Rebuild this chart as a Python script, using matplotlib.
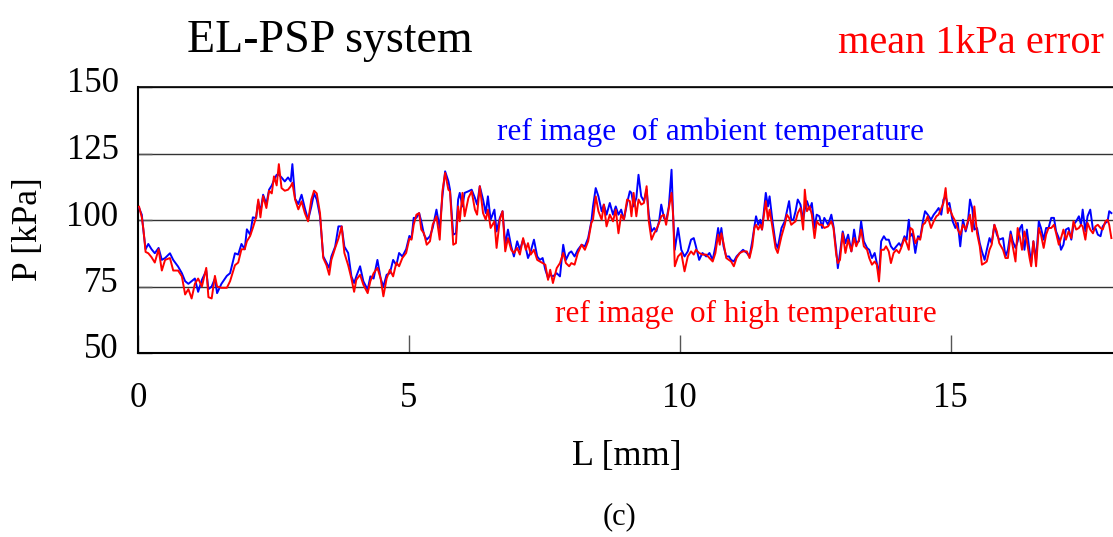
import matplotlib
matplotlib.use("Agg")
import matplotlib.pyplot as plt
import matplotlib.transforms as mtransforms

# Font: Times-like serif
plt.rcParams['font.family'] = ['Liberation Serif', 'DejaVu Serif']

# Position along the line [mm]
L_MM = [
    0.02, 0.07, 0.10, 0.14, 0.19, 0.25, 0.31, 0.38, 0.44, 0.50,
    0.59, 0.65, 0.74, 0.81, 0.87, 0.93, 0.99, 1.05, 1.11, 1.18,
    1.26, 1.30, 1.36, 1.42, 1.46, 1.54, 1.64, 1.70, 1.79, 1.85,
    1.91, 1.97, 2.01, 2.07, 2.12, 2.18, 2.22, 2.26, 2.31, 2.37,
    2.42, 2.47, 2.51, 2.56, 2.60, 2.65, 2.71, 2.77, 2.82, 2.85,
    2.90, 2.96, 3.02, 3.08, 3.14, 3.20, 3.25, 3.30, 3.36, 3.42,
    3.48, 3.53, 3.57, 3.64, 3.70, 3.76, 3.81, 3.88, 3.94, 3.99,
    4.03, 4.10, 4.16, 4.24, 4.29, 4.35, 4.42, 4.48, 4.53, 4.59,
    4.65, 4.71, 4.77, 4.82, 4.88, 4.95, 5.01,
    5.05, 5.09, 5.14, 5.19, 5.23, 5.28, 5.33, 5.39, 5.44, 5.51,
    5.57, 5.62, 5.67, 5.73, 5.76, 5.82, 5.87, 5.91, 5.94, 5.99,
    6.03, 6.10, 6.16, 6.22, 6.26, 6.31, 6.37, 6.42, 6.46, 6.51,
    6.58, 6.62, 6.68, 6.73, 6.78, 6.83, 6.89, 6.94, 7.00, 7.05,
    7.11, 7.16, 7.20, 7.25, 7.31, 7.37, 7.42, 7.47, 7.52, 7.57,
    7.61, 7.66, 7.73, 7.79, 7.85, 7.90, 7.96, 8.00, 8.06, 8.12,
    8.19, 8.25, 8.31, 8.37, 8.40, 8.45, 8.50, 8.56, 8.60, 8.65,
    8.71, 8.77, 8.82, 8.87, 8.92, 8.97, 9.03, 9.08, 9.11, 9.15,
    9.20, 9.24, 9.29, 9.34, 9.39, 9.43, 9.48, 9.53, 9.57, 9.62,
    9.66, 9.71, 9.75, 9.80, 9.85,
    9.88, 9.91, 9.97, 10.03, 10.09, 10.15, 10.21, 10.26, 10.30, 10.36,
    10.42, 10.49, 10.55, 10.61, 10.66, 10.71, 10.74, 10.77, 10.81, 10.86,
    10.91, 10.95, 11.00, 11.05, 11.11, 11.17, 11.24, 11.29, 11.34, 11.38,
    11.41, 11.45, 11.49, 11.52, 11.59, 11.63, 11.66, 11.71, 11.77, 11.81,
    11.88, 11.94, 11.98, 12.02, 12.06, 12.10, 12.14, 12.18, 12.23, 12.28,
    12.31, 12.35, 12.40, 12.44, 12.49, 12.53, 12.58, 12.63, 12.67, 12.74,
    12.80, 12.84, 12.89, 12.92, 12.96, 13.01, 13.06, 13.11, 13.17, 13.22,
    13.26, 13.31, 13.35, 13.40, 13.46, 13.50, 13.55, 13.60, 13.64, 13.68,
    13.72, 13.77, 13.81, 13.86, 13.90, 13.95, 14.00, 14.05, 14.09, 14.15,
    14.19, 14.23, 14.26, 14.30, 14.35, 14.40, 14.44, 14.49, 14.53, 14.58,
    14.64, 14.69, 14.74, 14.78, 14.83, 14.87, 14.91, 14.95,
    14.98, 15.04, 15.09, 15.135, 15.18, 15.23, 15.28, 15.32, 15.36, 15.40,
    15.44, 15.49, 15.54, 15.58, 15.63, 15.67, 15.72, 15.76, 15.81, 15.855,
    15.90, 15.97, 16.015, 16.06, 16.11, 16.15, 16.20, 16.24, 16.285, 16.32,
    16.365, 16.41, 16.46, 16.49, 16.53, 16.58, 16.63, 16.67, 16.72, 16.765,
    16.81, 16.86, 16.91, 16.95, 17.00, 17.04, 17.085, 17.13, 17.18, 17.23,
    17.27, 17.32, 17.37, 17.41, 17.44, 17.49, 17.53, 17.58, 17.63, 17.675,
    17.72, 17.77, 17.81, 17.86, 17.90, 17.93, 17.97,
]

# Pressure with reference image taken at ambient temperature [kPa] (blue)
P_AMBIENT = [
    104.5, 102, 96, 89, 91, 89, 87.5, 89.5, 85, 85.7,
    87.5, 85, 82.5, 80, 77, 76, 77, 78, 73, 77.5,
    81, 74, 75, 78, 72.5, 76, 79, 80, 87.5, 87,
    91, 89, 96.5, 94.5, 101, 100.7, 107, 103, 109.5, 106,
    111.4, 113, 115, 117, 117, 116, 114.5, 116, 114.5, 121,
    108, 106, 109.5, 104.5, 100, 105, 110, 107.7, 101.4, 86.3,
    84, 82, 86.3, 90, 97.6, 97.6, 90, 87.6, 78.8, 76.3,
    78.8, 82.6, 77, 73.8, 78.8, 78, 85, 78, 75, 79.4,
    80, 85, 83, 87.6, 86.3, 89, 94,
    93.2, 100.8, 100.8, 102.6, 99.5, 94.5, 92.6, 93.9, 97, 103.9,
    97, 108.9, 118.3, 114.6, 111.4, 94.5, 95, 107.7, 110.2, 105.1,
    110.2, 110.8, 111.4, 108.3, 105.8, 112.7, 107.7, 102.6, 108.9, 100.1,
    103.9, 95.7, 100.8, 103.3, 90.7, 96.4, 90.1, 86.3, 92, 88.8,
    92.6, 89.5, 85.7, 88.2, 92.6, 86.3, 85, 85.7, 81.3, 78.2,
    79.4, 78.8, 80, 78.8, 90.7, 85, 87.6, 88.2, 86.3, 88.8,
    90.7, 90.1, 93.2, 99.5, 105.1, 112, 108.9, 103.3, 105.8, 102,
    106.4, 102, 105.1, 102, 103.9, 100.1, 106.4, 110.8, 110.2, 105.1,
    108.3, 117, 108.9, 107.1, 111.4, 102, 95.7, 97, 95.7, 99.5,
    105.8, 100.8, 99.5, 105.1, 118.9,
    101.4, 88.8, 97, 88.8, 86.3, 88.2, 92.6, 93.2, 90.1, 85,
    87.6, 86.3, 87.6, 85, 90.1, 97, 92.6, 97, 90.1, 86.3,
    86.3, 85, 84.4, 86.3, 87.6, 88.8, 87.6, 86.3, 92, 97.6,
    101.4, 98.2, 100.1, 96.4, 110.2, 105.1, 108.9, 100.1, 91.3, 89.5,
    97, 99.5, 103.3, 107.1, 100.1, 100.1, 103.3, 107.7, 105.8, 100.1,
    103.9, 107.1, 103.9, 106.4, 97, 102, 101.4, 97, 100.8, 98.2,
    102, 97.6, 88.8, 81.9, 87.6, 95.7, 91.3, 94.5, 88.2, 96.4,
    91.3, 92, 99.5, 92, 89.5, 88.8, 85.7, 87.6, 83.8, 79.4,
    92, 93.9, 92.6, 92.6, 90.1, 88.8, 90.1, 91.3, 90.1, 93.9,
    92.6, 100.1, 93.9, 95, 87.6, 93.9, 93.2, 99.5, 103.3, 102,
    100.1, 102, 103.3, 104.5, 102, 107.7, 108.9, 105.8,
    106.4, 99.5, 97, 98.9, 90.1, 100.1, 95.7, 98.9, 107.7, 104.5,
    96.4, 97, 91.3, 88.2, 85, 88.8, 93.2, 91.3, 98.2, 94.5,
    92.6, 93.2, 86.3, 88.8, 95.7, 92, 89.5, 92, 97, 98.2,
    88.8, 96.4, 88.2, 83.8, 92, 85, 99.5, 97, 92.6, 97,
    97, 100.8, 100.8, 95.7, 93.2, 88.8, 90.7, 96.4, 97, 92.6,
    98.2, 99.5, 101.4, 98.2, 103.9, 95.7, 101.4, 103.9, 96.4, 97,
    94.5, 93.9, 97.6, 98.9, 99.5, 103.3, 102.6,
]

# Pressure with reference image taken at high temperature [kPa] (red)
P_HIGH = [
    105, 101, 96.5, 88, 87.5, 86, 84, 89, 81, 85,
    85.7, 81, 81, 78.8, 72, 74, 70.5, 76, 78, 75,
    82, 71, 70.5, 79, 75, 74.5, 74.5, 77, 83, 84,
    89, 89, 92, 94, 97, 101, 107.7, 101, 109, 104.5,
    111, 110, 116.4, 113, 121, 112, 111, 111.4, 112.7, 114,
    107.7, 104, 107, 102.6, 99.5, 107.7, 111, 110, 102.6, 85.7,
    83, 79.4, 85, 89.5, 93, 97.6, 87.6, 83, 78, 73,
    77.5, 79.4, 75.7, 72.5, 77, 80, 82, 78, 71.3, 78,
    81.3, 78.8, 84, 82.6, 85.7, 87.6, 93,
    92.6, 98.2, 102, 102.6, 96.4, 95, 90.7, 92, 98.2, 101.4,
    92.6, 110.8, 117.7, 111.4, 110.8, 90.7, 91.3, 105.1, 99.5, 110.2,
    101.4, 108.3, 110.8, 103.9, 102, 112.7, 102.6, 100.1, 103.9, 97,
    99.5, 89.5, 100.1, 103.3, 88.2, 93.2, 88.8, 87.6, 89.5, 87,
    93.2, 88.8, 91.3, 87, 88.8, 85, 84.4, 83.8, 83.2, 77.5,
    81.3, 76.3, 81.9, 83.8, 87.6, 83.8, 82.6, 83.8, 83.2, 87.6,
    90.7, 88.8, 92, 98.9, 100.1, 108.9, 103.3, 100.1, 105.8, 97.6,
    102, 99.5, 103.9, 95, 102, 100.1, 107.7, 107.1, 101.4, 110.2,
    101.4, 107.7, 105.8, 106.4, 112.7, 99.5, 92.6, 95, 96.4, 98.9,
    101.4, 102, 98.2, 104.5, 110.2,
    101.4, 82.6, 86.3, 87.6, 80.7, 86.3, 88.2, 87, 88.8, 87.6,
    87, 87, 85.7, 84.4, 87.6, 94.5, 90.7, 95, 91.3, 85.7,
    85, 84.4, 82.6, 85.7, 87.6, 88.2, 88.2, 85.7, 90.1, 97,
    98.2, 96.4, 98.2, 96.4, 107.1, 100.1, 103.9, 97.6, 89.5, 87.6,
    93.9, 98.2, 102, 100.8, 98.2, 98.9, 99.5, 102.6, 104.5, 96.4,
    111.4, 103.3, 105.1, 102, 93.2, 99.5, 98.2, 98.2, 97, 97.6,
    99.5, 97, 87, 83.8, 85, 95, 87.6, 92.6, 88.2, 93.2,
    90.1, 92.6, 96.4, 90.1, 88.8, 85.7, 83.2, 84.4, 83.2, 76.9,
    88.8, 88.8, 90.1, 88.2, 83.8, 87.6, 88.8, 87.6, 89.5, 93.2,
    91.3, 88.8, 97, 96.4, 91.3, 93.2, 92.6, 98.2, 98.9, 101.4,
    97, 99.5, 101.4, 102, 104.5, 106.4, 112, 102.6,
    104.5, 101.4, 99.5, 96.4, 94.5, 98.2, 96.4, 99.5, 102, 95.7,
    105.1, 95, 90.1, 83.2, 83.8, 84.4, 88.8, 90.7, 98.2, 95.7,
    91.3, 88.8, 85.7, 85.7, 94.5, 90.1, 84.4, 97, 93.2, 88.8,
    95.7, 92, 85.7, 82.6, 92, 82.6, 97, 94.5, 89.5, 94.5,
    97, 97, 98.2, 95, 90.7, 93.2, 96.4, 92.6, 95.7, 93.2,
    99.5, 96.4, 97, 98.2, 97.6, 92.6, 98.9, 96.4, 95, 97.6,
    98.2, 97, 96.4, 99.5, 100.1, 98.2, 93.2,
]

X_TICKS = [0, 5, 10, 15]
Y_TICKS = [50, 75, 100, 125, 150]

W, H = 1113, 537


def fx(px):
    return px / W


def fy(py):
    return 1 - py / H


def main():
    fig = plt.figure(figsize=(W / 100, H / 100), dpi=100)
    ax = fig.add_axes([fx(138), fy(353), fx(W - 138), (353 - 87) / H])

    ax.plot(L_MM, P_AMBIENT, color='#0000ff', lw=1.4, zorder=3)
    ax.plot(L_MM, P_HIGH, color='#ff0000', lw=1.4, zorder=4)

    ax.set_xlim(0, 18)
    ax.set_ylim(50, 150)
    ax.set_xticks(X_TICKS)
    ax.set_yticks(Y_TICKS)
    ax.tick_params(axis='x', direction='in', length=13, width=1, color='#555555',
                   labelsize=25, pad=21)
    ax.tick_params(axis='y', direction='in', length=10, width=1, color='#555555',
                   labelsize=25, pad=14)

    # y labels sit a little above their grid lines in the original
    shift = mtransforms.ScaledTranslation(0, 7 / 100, fig.dpi_scale_trans)
    for lab in ax.get_yticklabels():
        lab.set_transform(lab.get_transform() + shift)

    ax.yaxis.grid(True, color='#333333', lw=1.0)
    ax.set_axisbelow(True)
    ax.spines['right'].set_visible(False)
    ax.spines['left'].set_linewidth(1.5)
    ax.spines['bottom'].set_linewidth(1.5)
    ax.spines['top'].set_linewidth(1.2)

    ax.text(10.57, 132.9, 'ref image  of ambient temperature', color='#0000ff',
            fontsize=22.5, ha='center', va='center')
    ax.text(11.22, 64.3, 'ref image  of high temperature', color='#ff0000',
            fontsize=22.5, ha='center', va='center')

    fig.text(fx(330), fy(52), 'EL-PSP system', fontsize=33, ha='center', va='baseline')
    fig.text(fx(1104), fy(53), 'mean 1kPa error', fontsize=29, color='#ff0000',
             ha='right', va='baseline')
    fig.text(fx(28), fy(229), 'P [kPa]', fontsize=25.5, rotation=90,
             ha='center', va='center')
    fig.text(fx(627), fy(456), 'L [mm]', fontsize=26, ha='center', va='center')
    fig.text(fx(619), fy(517), '(c)', fontsize=22, ha='center', va='center')

    fig.savefig('out.png', dpi=100)


if __name__ == "__main__":
    main()
